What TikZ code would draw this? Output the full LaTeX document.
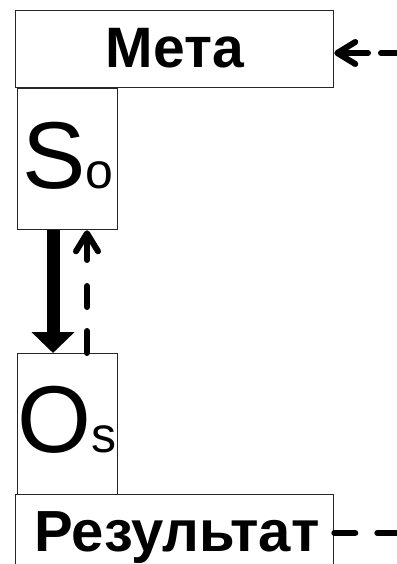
\documentclass[tikz,border=0pt]{standalone}
\usepackage{fontspec}
\setmainfont{Liberation Sans}
\usetikzlibrary{arrows.meta}
\begin{document}
\begin{tikzpicture}[x=1pt,y=-1pt,
  box/.style={draw=black!85,line width=1.3pt,rectangle,inner sep=0pt,anchor=north west},
  bigarrow/.style={line width=13pt,-{Triangle[width=42pt,length=21pt]}},
  dasharrow/.style={line width=6pt,line cap=round,-{Straight Barb[length=18pt,width=22pt,round]}},
  dashline/.style={line width=6pt,line cap=round}]
\useasboundingbox (0,0) rectangle (396,564);
\node[box,minimum width=318pt,minimum height=77pt] (meta) at (15,10) {};
\node[box,minimum width=100pt,minimum height=141pt] (S) at (17,88) {};
\node[box,minimum width=100pt,minimum height=141pt] (O) at (17,353) {};
\node[box,minimum width=318pt,minimum height=78pt] (rez) at (15,494) {};
\node[anchor=base,inner sep=0pt] (metatext) at (175,68) {\fontsize{57}{60}\selectfont\bfseries Мета};
\node[anchor=base,inner sep=0pt] (reztext) at (177,551) {\fontsize{58}{60}\selectfont\bfseries Результат};
\node[anchor=base,inner sep=0pt] (Stext) at (68,188) {\fontsize{95}{100}\selectfont S\fontsize{50}{55}\selectfont o};
\node[anchor=base,inner sep=0pt] (Otext) at (67,452) {\fontsize{95}{100}\selectfont O\fontsize{50}{55}\selectfont s};
\coordinate (xa) at (53,300);
\coordinate (xb) at (87,300);
\coordinate (metasrc) at (400,53);
\coordinate (rezdst) at (400,533);
\draw[bigarrow] (xa |- S.south) -- (xa |- O.north);
\draw[dasharrow,dash pattern=on 22pt off 24pt on 21pt off 26pt on 80pt] (xb |- O.north) -- (xb |- S.south);
\draw[dasharrow,dash pattern=on 19pt off 13pt on 80pt] (metasrc) -- (metasrc -| meta.east);
\draw[dashline,dash pattern=on 21pt off 22pt on 40pt] (rezdst -| rez.east) -- (rezdst);
\end{tikzpicture}
\end{document}
